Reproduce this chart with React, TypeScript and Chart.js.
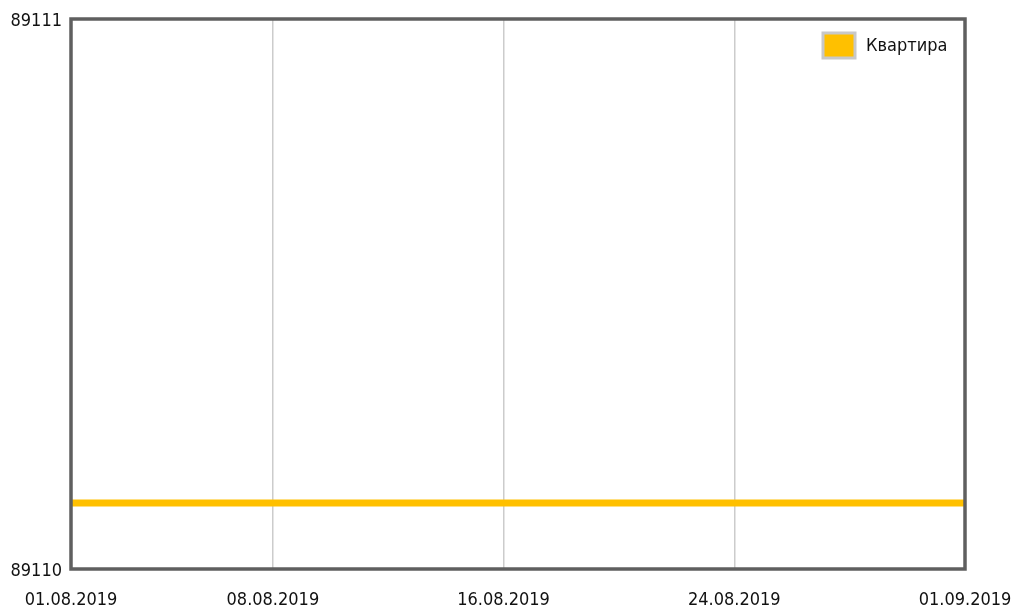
import React, { useEffect, useRef } from "react";
import { Chart, registerables } from "chart.js";

Chart.register(...registerables);

const seriesName = "Квартира";
const pointDates = ["2019-08-01", "2019-09-01"];
const pointValues = [89110.12, 89110.12];
const tickDates = ["2019-08-01", "2019-08-08", "2019-08-16", "2019-08-24", "2019-09-01"];
const tickLabels = ["01.08.2019", "08.08.2019", "16.08.2019", "24.08.2019", "01.09.2019"];
const yMin = 89110;
const yMax = 89111;

const FONT = "'DejaVu Sans Condensed', 'DejaVu Sans', sans-serif";
const LINE_COLOR = "#FFC000";
const FRAME_COLOR = "#5f5f5f";
const GRID_COLOR = "#cccccc";

const dayOf = (s: string) => {
  const [y, m, d] = s.split("-").map(Number);
  const t0 = Date.UTC(2019, 7, 1);
  return (Date.UTC(y, m - 1, d) - t0) / 86400000;
};

const tickDays = tickDates.map(dayOf);

const framePlugin = {
  id: "frameAndLegend",
  afterDatasetsDraw(chart: any) {
    const { ctx, chartArea } = chart;
    const { left, top, right, bottom } = chartArea;
    ctx.save();
    ctx.strokeStyle = FRAME_COLOR;
    ctx.lineWidth = 3.5;
    ctx.strokeRect(left, top, right - left, bottom - top);
    // legend
    const bx = right - 142;
    const by = top + 14;
    ctx.fillStyle = LINE_COLOR;
    ctx.fillRect(bx, by, 32, 25);
    ctx.strokeStyle = "#c8c8c8";
    ctx.lineWidth = 3;
    ctx.strokeRect(bx, by, 32, 25);
    ctx.fillStyle = "#111";
    ctx.font = "18px " + FONT;
    ctx.textBaseline = "middle";
    ctx.textAlign = "left";
    ctx.fillText(seriesName, bx + 43, by + 13);
    ctx.restore();
  },
};

export default function App() {
  const ref = useRef<HTMLCanvasElement>(null);
  useEffect(() => {
    document.body.style.margin = "0";
    const chart = new Chart(ref.current as HTMLCanvasElement, {
      type: "line",
      data: {
        datasets: [
          {
            label: seriesName,
            data: pointDates.map((d, i) => ({ x: dayOf(d), y: pointValues[i] })),
            borderColor: LINE_COLOR,
            backgroundColor: LINE_COLOR,
            borderWidth: 7,
            pointRadius: 0,
            fill: false,
          },
        ],
      },
      options: {
        animation: false,
        responsive: false,
        layout: { padding: { left: 0, right: 47, top: 19, bottom: 0 } },
        plugins: { legend: { display: false }, tooltip: { enabled: false } },
        scales: {
          x: {
            type: "linear",
            min: tickDays[0],
            max: tickDays[tickDays.length - 1],
            afterBuildTicks: (scale: any) => {
              scale.ticks = tickDays.map((v) => ({ value: v }));
            },
            afterFit: (scale: any) => {
              scale.height = 45;
              scale.paddingLeft = 0;
              scale.paddingRight = 0;
            },
            ticks: {
              autoSkip: false,
              maxRotation: 0,
              padding: 21,
              color: "#111",
              font: { family: FONT, size: 18 },
              callback: (v: any) => {
                const i = tickDays.indexOf(Number(v));
                return i >= 0 ? tickLabels[i] : "";
              },
            },
            grid: { color: GRID_COLOR, lineWidth: 1.5, drawTicks: false },
            border: { display: false },
          },
          y: {
            type: "linear",
            min: yMin,
            max: yMax,
            afterBuildTicks: (scale: any) => {
              scale.ticks = [{ value: yMin }, { value: yMax }];
            },
            afterFit: (scale: any) => {
              scale.width = 71;
              scale.paddingTop = 0;
              scale.paddingBottom = 0;
            },
            ticks: {
              padding: 9,
              labelOffset: 2,
              color: "#111",
              font: { family: FONT, size: 18 },
              callback: (v: any) => String(v),
            },
            grid: { display: false, drawTicks: false },
            border: { display: false },
          },
        },
      },
      plugins: [framePlugin],
    } as any);
    return () => chart.destroy();
  }, []);
  return (
    <div style={{ position: "absolute", left: 0, top: 0, width: 1012, height: 614 }}>
      <canvas ref={ref} width={1012} height={614} />
    </div>
  );
}
